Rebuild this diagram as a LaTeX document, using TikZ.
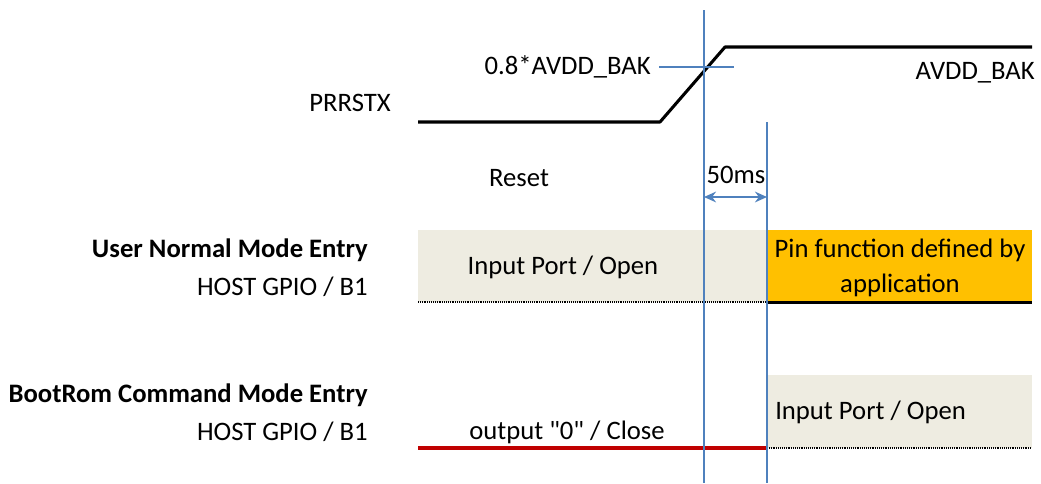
\documentclass[tikz,border=0pt]{standalone}
\usepackage{fontspec}
\setmainfont{Carlito}[Ligatures=TeXOff]
\usetikzlibrary{arrows.meta, positioning}
\definecolor{tmblue}{HTML}{4F81BD}
\definecolor{tmtan}{HTML}{EEECE1}
\definecolor{tmorange}{HTML}{FFC000}
\definecolor{tmred}{HTML}{C00000}

\begin{document}
\begin{tikzpicture}[x=0.75pt,y=-0.75pt,font=\fontsize{20}{24}\selectfont,
    marker/.style={tmblue,line width=1.9pt},
    signal/.style={line width=2.3pt,line join=round},
    dotline/.style={line width=0.9pt,dash pattern=on 0.7pt off 0.7pt},
    lbl/.style={inner sep=0pt}]
    \useasboundingbox (0,0) rectangle (1041,483);
    % mode boxes
    \fill[tmtan] (418,230) rectangle (767,302);
    \fill[tmorange] (767,230) rectangle (1032,302);
    \fill[tmtan] (767,375) rectangle (1032,448);
    \draw[dotline] (418,302) -- (767,302);
    \draw[dotline] (767,448) -- (1032,448);
    \draw[line width=1.8pt] (767,302.5) -- (1032,302.5);
    \draw[tmred,signal] (418,448) -- (767,448);
    % PRRSTX waveform
    \draw[signal] (418,122) -- (660,122) -- (725,47) -- (1032,47);
    % timing markers
    \coordinate (t0top) at (704,10);
    \coordinate (t0bot) at (704,483);
    \coordinate (t1top) at (767,122);
    \coordinate (t1bot) at (767,483);
    \coordinate (thl) at (659,67);
    \coordinate (thr) at (734,67);
    \draw[marker] (t0top) -- (t0bot);
    \draw[marker] (t1top) -- (t1bot);
    \draw[marker] (thl) -- (thr);
    \coordinate (dl) at (704,197);
    \coordinate (dr) at (767,197);
    \draw[marker,{Stealth[length=9pt,width=8pt]}-{Stealth[length=9pt,width=8pt]}] (dl) -- (dr);
    % labels
    \node[lbl,anchor=east] (prr) at (391,103) {PRRSTX};
    \node[lbl,anchor=east] (thlbl) at (651,67) {0.8*AVDD\_BAK};
    \node[lbl,anchor=east] (avdd) at (1035,73) {AVDD\_BAK};
    \node[lbl] (rst) at (519,178) {Reset};
    \node[lbl] (dly) at (736,175) {50ms};
    \node[lbl,anchor=east] (unm) at (368,250) {\bfseries User Normal Mode Entry};
    \node[lbl,anchor=east] (unmio) at (368,287) {HOST GPIO / B1};
    \node[lbl,anchor=east] (bcm) at (368,395) {\bfseries BootRom Command Mode Entry};
    \node[lbl,anchor=east] (bcmio) at (368,432) {HOST GPIO / B1};
    \node[lbl] (inup) at (563,267) {Input Port / Open};
    \node[lbl,align=center] (pinfn) at (900,268) {Pin function defined by\\[2pt]application};
    \node[lbl,anchor=west] (inlo) at (775,412) {Input Port / Open};
    \node[lbl] (outlo) at (567,432) {output "0" / Close};
\end{tikzpicture}
\end{document}
